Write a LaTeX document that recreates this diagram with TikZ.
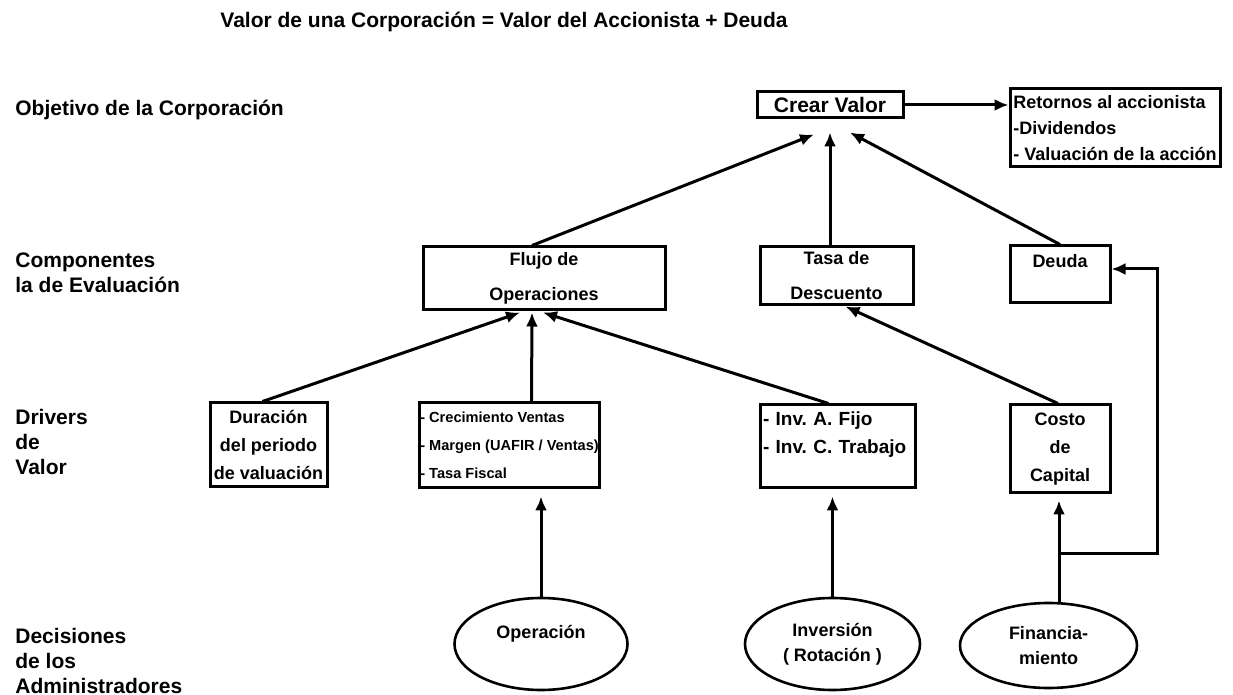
\documentclass[tikz,border=0pt]{standalone}
\usepackage{fontspec}
\setmainfont{Liberation Sans}
\usepackage{tikz}
\usetikzlibrary{shapes, arrows, arrows.meta, positioning}
\tikzstyle{box}  = [draw, rectangle, line width=1.5pt, inner sep=1.5pt, align=center,
                    font=\fontsize{9}{14}\selectfont\bfseries]
\tikzstyle{oval} = [draw, ellipse, line width=1.3pt, inner sep=0pt, align=center,
                    font=\fontsize{9}{12.5}\selectfont\bfseries]
\tikzstyle{lbl}  = [anchor=west, inner sep=0pt, align=left,
                    font=\fontsize{10.5}{12.5}\selectfont\bfseries]
\tikzstyle{arr}  = [draw, line width=1.5pt, -{Latex[length=7pt, width=6pt]}]

\begin{document}
\frenchspacing
\begin{tikzpicture}[x=0.5pt, y=-0.5pt]
\useasboundingbox (0,0) rectangle (1233,695);

% title and row labels
\node [font=\fontsize{10.5}{12.5}\selectfont\bfseries] (eq) at (504,22)
      {Valor de una Corporación = Valor del Accionista + Deuda};
\node [lbl] (objetivo)    at (15,110) {Objetivo de la Corporación};
\node [lbl] (componentes) at (15,273) {Componentes\\la de Evaluación};
\node [lbl] (drivers)     at (15,442) {Drivers\\de\\Valor};
\node [lbl] (decisiones)  at (15,661) {Decisiones\\de los\\Administradores};

% objective
\node [box, minimum width=73pt, minimum height=13pt,
       font=\fontsize{10.5}{12.5}\selectfont\bfseries]        (crear)    at (830,105)  {Crear Valor};
\node [box, minimum width=105pt, minimum height=39pt, align=left, inner sep=0.5pt,
       font=\fontsize{9}{12.8}\selectfont\bfseries]           (retornos) at (1115,128)
      {Retornos al accionista\\-Dividendos\\- Valuación de la acción};

\path [arr] (crear.east) -- (crear.east -| retornos.west);

% components
\node [box, minimum width=121pt,  minimum height=31.5pt,
       font=\fontsize{9}{17.5}\selectfont\bfseries]           (flujo)    at (544,278.5) {Flujo de\\Operaciones};
\node [box, minimum width=76.5pt, minimum height=29pt,
       font=\fontsize{9}{17.5}\selectfont\bfseries]           (tasa)     at (836.5,276) {Tasa de\\Descuento};
\node [box, minimum width=50pt,   minimum height=28.5pt]      (deuda)    at (1060,274.5) {Deuda\\~};

\path [arr] ([xshift=-6pt]flujo.north) -- ([xshift=-8pt,yshift=-7.5pt]crear.south);
\path [arr] (tasa.north -| crear.south) -- ([yshift=-6.5pt]crear.south);
\path [arr] (deuda.north)               -- ([xshift=10pt,yshift=-6.5pt]crear.south);

% drivers
\node [box, minimum width=58.5pt, minimum height=42pt]        (duracion)    at (268.5,445)
      {Duración\\del periodo\\de valuación};
\node [box, minimum width=89.5pt, minimum height=42.5pt, align=left, inner sep=0.5pt,
       font=\fontsize{7.3}{14}\selectfont\bfseries]           (crecimiento) at (509.5,445.5)
      {- Crecimiento Ventas\\- Margen (UAFIR / Ventas)\\- Tasa Fiscal};
\node [box, text width=74.5pt, minimum height=41.5pt, align=left,
       font=\fontsize{9.5}{14}\selectfont\bfseries]           (inv)         at (837.5,446.5)
      {- Inv. A. Fijo\\- Inv. C. Trabajo\\~};
\node [box, minimum width=50pt, minimum height=44pt]          (costo)       at (1060,449)
      {Costo\\de\\Capital};

\path [arr] ([xshift=-3pt]duracion.north)   -- ([xshift=-12pt,yshift=-0.5pt]flujo.south);
\path [arr] ([xshift=11pt]crecimiento.north) -- ([xshift=-6pt,yshift=-0.5pt]flujo.south);
\path [arr] ([xshift=-4.5pt]inv.north)      -- ([xshift=-0.5pt,yshift=-0.5pt]flujo.south);
\path [arr] ([xshift=-1pt]costo.north)      -- ([xshift=4.5pt]tasa.south);

% decisions
\node [oval, minimum width=86.5pt, minimum height=46pt]   (operacion)      at (541,644)     {Operación\\~};
\node [oval, minimum width=87.5pt, minimum height=46pt]   (inversion)      at (832.5,644)   {Inversión\\( Rotación )};
\node [oval, minimum width=88.5pt, minimum height=42.5pt] (financiamiento) at (1048.5,645.5) {Financia-\\miento};

\coordinate (fork) at (1059,553);
\coordinate (rail) at (1157,553);

\path [arr, shorten >=3.5pt] (operacion.north) -- (operacion.north |- crecimiento.south);
\path [arr, shorten >=3.5pt] (inversion.north) -- (inversion.north |- inv.south);
\path [arr, shorten >=3pt]   (fork |- financiamiento.north) -- (fork |- costo.south);
\path [arr] (fork) -- (rail) |- ([yshift=2.75pt]deuda.east);

\end{tikzpicture}
\end{document}
